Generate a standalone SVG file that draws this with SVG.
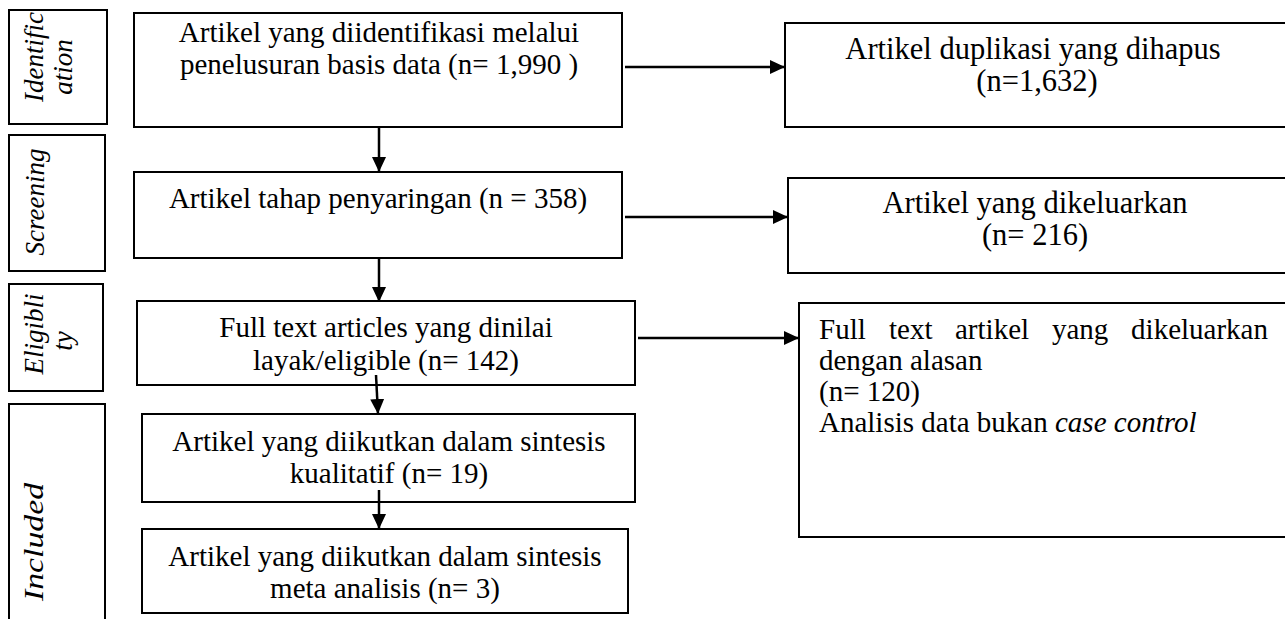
<svg xmlns="http://www.w3.org/2000/svg" width="1285" height="619" viewBox="0 0 1285 619">
  <style>
    .box { fill: #ffffff; stroke: #000000; stroke-width: 2; }
    .t { font-family: "Liberation Serif", "Times New Roman", serif; font-size: 29px; fill: #000000; }
    .r { font-size: 30.5px; }
    .c { text-anchor: middle; }
    .lbl { font-family: "Liberation Serif", "Times New Roman", serif; font-size: 27px; font-style: italic; fill: #000000; text-anchor: middle; }
    .it { font-style: italic; }
    .conn { stroke: #000000; stroke-width: 2.5; fill: none; }
  </style>
  <defs>
    <marker id="ah" markerUnits="userSpaceOnUse" viewBox="0 0 15 14" refX="15" refY="7" markerWidth="15" markerHeight="14" orient="auto">
      <path d="M0,0 L15,7 L0,14 Z" fill="#000000"/>
    </marker>
  </defs>
  <rect x="0" y="0" width="1285" height="619" fill="#ffffff"/>

  <!-- Stage labels -->
  <g id="label-identification">
    <rect class="box" x="9" y="10" width="98" height="114"/>
    <text class="lbl" transform="translate(43,57) rotate(-90)">Identific</text>
    <text class="lbl" transform="translate(72,67) rotate(-90)">ation</text>
  </g>
  <g id="label-screening">
    <rect class="box" x="9" y="135" width="96" height="136"/>
    <text class="lbl" transform="translate(44,202) rotate(-90)">Screening</text>
  </g>
  <g id="label-eligibility">
    <rect class="box" x="9" y="284" width="94" height="107"/>
    <text class="lbl" transform="translate(43,334) rotate(-90)">Eligibli</text>
    <text class="lbl" transform="translate(72,341) rotate(-90)">ty</text>
  </g>
  <g id="label-included">
    <rect class="box" x="9" y="404" width="96" height="230"/>
    <text class="lbl" transform="translate(43,542) rotate(-90)" textLength="118" lengthAdjust="spacingAndGlyphs">Included</text>
  </g>

  <!-- Main column -->
  <g id="identified">
    <rect class="box" x="134" y="13" width="488" height="114"/>
    <text class="t c" x="379" y="42">Artikel yang diidentifikasi melalui</text>
    <text class="t c" x="379" y="74">penelusuran basis data (n= 1,990  )</text>
  </g>
  <g id="screened">
    <rect class="box" x="134" y="172" width="488" height="86"/>
    <text class="t c" x="378" y="208">Artikel tahap penyaringan (n = 358)</text>
  </g>
  <g id="eligible">
    <rect class="box" x="137" y="301" width="498" height="84"/>
    <text class="t c" x="386" y="337">Full text articles yang dinilai</text>
    <text class="t c" x="386" y="370">layak/eligible (n= 142)</text>
  </g>
  <g id="qualitative">
    <rect class="box" x="142" y="414" width="493" height="88"/>
    <text class="t c" x="389" y="451">Artikel yang diikutkan dalam sintesis</text>
    <text class="t c" x="389" y="483">kualitatif (n= 19)</text>
  </g>
  <g id="meta">
    <rect class="box" x="142" y="529" width="486" height="84"/>
    <text class="t c" x="385" y="566">Artikel yang diikutkan dalam sintesis</text>
    <text class="t c" x="385" y="598">meta analisis (n= 3)</text>
  </g>

  <!-- Right column -->
  <g id="duplicates">
    <rect class="box" x="785" y="23" width="510" height="104"/>
    <text class="t r c" x="1033" y="59">Artikel duplikasi yang dihapus</text>
    <text class="t r c" x="1037" y="91">(n=1,632)</text>
  </g>
  <g id="excluded">
    <rect class="box" x="788" y="178" width="507" height="95"/>
    <text class="t r c" x="1035" y="213">Artikel yang dikeluarkan</text>
    <text class="t r c" x="1035" y="245">(n= 216)</text>
  </g>
  <g id="fulltext-excluded">
    <rect class="box" x="799" y="303" width="496" height="234"/>
    <text class="t" x="819" y="339">Full</text>
    <text class="t" x="889" y="339">text</text>
    <text class="t" x="955" y="339">artikel</text>
    <text class="t" x="1052" y="339">yang</text>
    <text class="t" x="1268" y="339" text-anchor="end">dikeluarkan</text>
    <text class="t" x="819" y="370">dengan alasan</text>
    <text class="t" x="819" y="401">(n= 120)</text>
    <text class="t" x="819" y="432">Analisis data bukan <tspan class="it">case control</tspan></text>
  </g>

  <!-- Connectors -->
  <g id="connectors">
    <line class="conn" x1="379" y1="127" x2="379" y2="172" marker-end="url(#ah)"/>
    <line class="conn" x1="379" y1="258" x2="379" y2="302" marker-end="url(#ah)"/>
    <line class="conn" x1="376" y1="375" x2="378" y2="414" marker-end="url(#ah)"/>
    <line class="conn" x1="379" y1="490" x2="379" y2="529" marker-end="url(#ah)"/>
    <line class="conn" x1="625" y1="67" x2="785" y2="67" marker-end="url(#ah)"/>
    <line class="conn" x1="625" y1="217" x2="788" y2="217" marker-end="url(#ah)"/>
    <line class="conn" x1="638" y1="338" x2="799" y2="338" marker-end="url(#ah)"/>
  </g>
</svg>
